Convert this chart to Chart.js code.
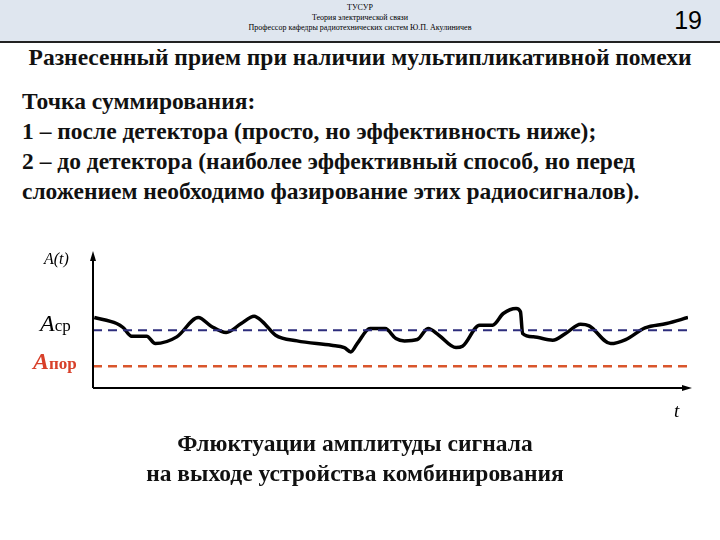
<!DOCTYPE html>
<html><head><meta charset="utf-8">
<script src="https://cdn.jsdelivr.net/npm/chart.js@4"></script>
<style>
body{margin:0;width:720px;height:540px;background:#fff;font-family:"Liberation Serif",serif;position:relative;overflow:hidden}
.hdr{position:absolute;left:0;top:0;width:720px;height:41px;background:#dfe6ef;border-bottom:2px solid #222}
.hdr div{text-align:center;font-size:8px;line-height:10px;padding-top:3px}
.num{position:absolute;right:18px;top:6px;font-family:"Liberation Sans",sans-serif;font-size:25px}
.t{position:absolute;font-weight:bold;color:#111;white-space:nowrap}
#c{position:absolute;left:0;top:240px}
.lb{position:absolute;font-style:italic}
</style></head><body>
<div class="hdr"><div>ТУСУР<br>Теория электрической связи<br>Профессор кафедры радиотехнических систем Ю.П. Акулиничев</div><span class="num">19</span></div>
<div class="t" style="left:0;width:720px;text-align:center;top:44px;font-size:23.5px">Разнесенный прием при наличии мультипликативной помехи</div>
<div class="t" style="left:22px;top:86px;font-size:23.5px;line-height:30px">Точка суммирования:<br>1 – после детектора (просто, но эффективность ниже);<br>2 – до детектора (наиболее эффективный способ, но перед<br>сложением необходимо фазирование этих радиосигналов).</div>
<canvas id="c" width="720" height="200"></canvas>
<div class="lb" style="left:44px;top:250px;font-size:16px">A(t)</div>
<div class="lb" style="left:40px;top:310px;font-size:24px">A<span style="font-style:normal;font-size:17px">ср</span></div>
<div class="lb" style="left:33px;top:348px;font-size:24px;color:#d8402a;font-weight:bold">A<span style="font-style:normal;font-size:17px">пор</span></div>
<div class="lb" style="left:674px;top:400px;font-size:19px">t</div>
<div class="t" style="left:0;width:710px;text-align:center;top:428px;font-size:23.5px;line-height:30px">Флюктуации амплитуды сигнала<br>на выходе устройства комбинирования</div>
<script>
// curve (t, A)
var tVals = [148,200,215,235,270,290,340,390,420,455,490,520,540,570,620,700,730,745,760,790,825,850,870,900,925,950,990,1005,1045,1075,1100,1130,1140,1145,1170,1215,1245,1280,1300,1350,1385,1430,1480,1530];
var aVals = [211,193,181,155,155,133,153,211,185,166,193,215,198,158,141,128,121,108,133,178,178,148,141,145,178,158,121,125,188,188,223,238,228,163,153,143,163,191,186,133,145,180,193,211];
var aMean = 173, aThr = 65;
var tMin = 145, tMax = 1530, aMax = 398;

var pts = tVals.map(function(t, i){ return {x: t, y: aVals[i]}; });

var arrows = {
  id: 'arrows',
  afterDraw: function(ch){
    var c = ch.ctx, a = ch.chartArea;
    c.save(); c.strokeStyle = '#000'; c.fillStyle = '#000'; c.lineWidth = 2;
    c.beginPath(); c.moveTo(a.left, a.bottom); c.lineTo(a.right, a.bottom);
    c.moveTo(a.left, a.bottom); c.lineTo(a.left, a.top); c.stroke();
    c.beginPath(); c.moveTo(a.right + 4, a.bottom); c.lineTo(a.right - 6, a.bottom - 3); c.lineTo(a.right - 6, a.bottom + 3); c.fill();
    c.beginPath(); c.moveTo(a.left, a.top - 4); c.lineTo(a.left - 3, a.top + 6); c.lineTo(a.left + 3, a.top + 6); c.fill();
    c.restore();
  }
};

new Chart(document.getElementById('c'), {
  type: 'line',
  data: { datasets: [
    { data: [{x: tMin, y: aMean}, {x: tMax, y: aMean}], borderColor: '#2d2d7c', borderWidth: 2, borderDash: [9, 6], pointRadius: 0 },
    { data: [{x: tMin, y: aThr}, {x: tMax, y: aThr}], borderColor: '#d9562c', borderWidth: 2.5, borderDash: [9, 6], pointRadius: 0 },
    { data: pts, borderColor: '#000', borderWidth: 3.5, pointRadius: 0, tension: 0.4, cubicInterpolationMode: 'monotone' }
  ]},
  options: {
    responsive: false, animation: false,
    layout: { padding: { left: 93, right: 32, top: 15, bottom: 52 } },
    plugins: { legend: { display: false }, tooltip: { enabled: false } },
    scales: {
      x: { type: 'linear', min: tMin, max: tMax, display: false },
      y: { min: 0, max: aMax, display: false }
    }
  },
  plugins: [arrows]
});
</script>
</body></html>
